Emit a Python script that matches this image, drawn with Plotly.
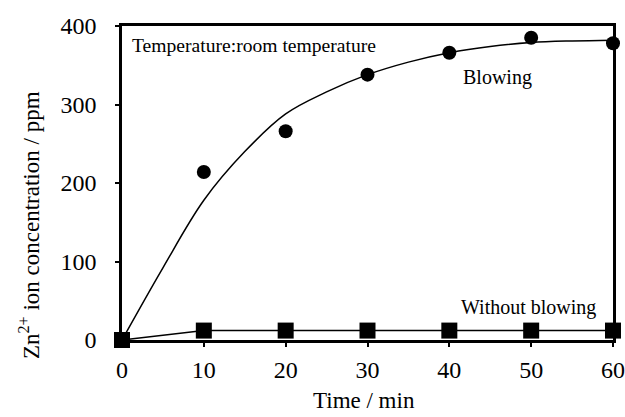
import plotly.graph_objects as go

# Data
time_points = [0, 10, 20, 30, 40, 50, 60]
blowing = [0, 214, 266, 338, 366, 385, 378]
without_blowing = [0, 12, 12, 12, 12, 12, 12]

fit_time = [0, 5, 10, 15, 20, 25, 30, 35, 40, 45, 50, 55, 60]
fit_blowing = [0, 92, 178, 240, 288, 316, 338, 354, 366, 374, 379, 381, 382]

x_ticks = [0, 10, 20, 30, 40, 50, 60]
y_ticks = [0, 100, 200, 300, 400]

FONT = "Liberation Serif, Times New Roman, serif"

fig = go.Figure()
fig.add_trace(go.Scatter(x=fit_time, y=fit_blowing, mode="lines",
                         line=dict(color="black", width=1.5, shape="spline", smoothing=1.0),
                         showlegend=False, hoverinfo="skip", cliponaxis=False))
fig.add_trace(go.Scatter(x=time_points, y=blowing, mode="markers",
                         marker=dict(symbol="circle", size=14, color="black"),
                         showlegend=False, cliponaxis=False))
fig.add_trace(go.Scatter(x=time_points, y=without_blowing, mode="lines+markers",
                         line=dict(color="black", width=1.5),
                         marker=dict(symbol="square", size=16, color="black"),
                         showlegend=False, cliponaxis=False))

fig.update_layout(
    width=625, height=417,
    margin=dict(l=122, r=12, t=26, b=77, autoexpand=False),
    paper_bgcolor="white", plot_bgcolor="white",
    font=dict(family=FONT, color="black", size=24),
    xaxis=dict(range=[0, 60], tickvals=x_ticks, ticks="outside", ticklen=4, tickwidth=1.5,
               tickcolor="black", showline=True, linecolor="black", linewidth=2.5, mirror=True,
               showgrid=False, zeroline=False, tickfont=dict(size=24), automargin=False,
               ticklabelstandoff=2),
    yaxis=dict(range=[0, 400], tickvals=y_ticks, ticks="outside", ticklen=4, tickwidth=1.5,
               tickcolor="black", showline=True, linecolor="black", linewidth=2.5, mirror=True,
               showgrid=False, zeroline=False, tickfont=dict(size=24), ticklabelstandoff=14,
               automargin=False),
    annotations=[
        dict(x=1.0, y=375.5, xref="x", yref="y", text="Temperature:room temperature",
             showarrow=False, xanchor="left", yanchor="middle", font=dict(size=19.6)),
        dict(x=45.9, y=334.8, xref="x", yref="y", text="Blowing",
             showarrow=False, xanchor="center", yanchor="middle", font=dict(size=20)),
        dict(x=49.7, y=41.8, xref="x", yref="y", text="Without blowing",
             showarrow=False, xanchor="center", yanchor="middle", font=dict(size=20)),
        dict(x=364, y=400, xref="paper", yref="paper", text="Time / min",
             showarrow=False, xanchor="center", yanchor="middle", font=dict(size=23)),
        dict(x=29, y=225, xref="paper", yref="paper", text="Zn<sup>2+</sup> ion concentration / ppm",
             textangle=-90, showarrow=False, xanchor="center", yanchor="middle", font=dict(size=23)),
    ],
)

# convert the pixel positions of the two axis-title annotations into paper fractions
pw = 625 - 122 - 12
ph = 417 - 26 - 77
for a in fig.layout.annotations:
    if a.xref == "paper":
        px, py = a.x, a.y
        a.x = (px - 122) / pw
        a.y = (417 - 77 - py) / ph

fig.write_html("out.html", config={"displayModeBar": False},
               post_script="document.body.style.margin='0';document.body.style.overflow='hidden';")
